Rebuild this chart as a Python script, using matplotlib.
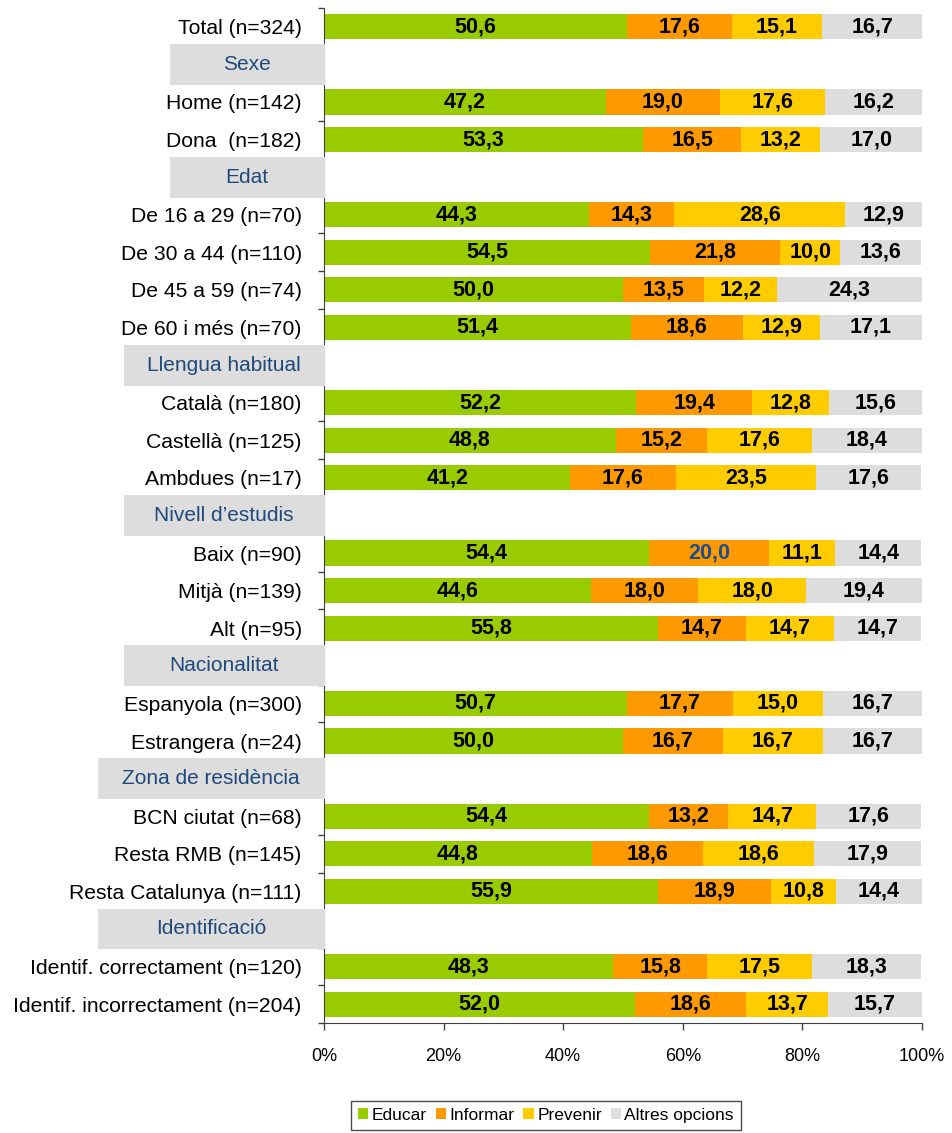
import numpy as np
import matplotlib
matplotlib.use('Agg')
import matplotlib.pyplot as plt
from matplotlib.patches import Rectangle
from matplotlib.transforms import blended_transform_factory

plt.rcParams['font.family'] = ['Liberation Sans', 'DejaVu Sans']

nan = np.nan

# row labels, top to bottom; headers are the group titles in grey boxes
labels = ["Total (n=324)", "Sexe", "Home (n=142)", "Dona  (n=182)", "Edat",
          "De 16 a 29 (n=70)", "De 30 a 44 (n=110)", "De 45 a 59 (n=74)", "De 60 i més (n=70)",
          "Llengua habitual", "Català (n=180)", "Castellà (n=125)", "Ambdues (n=17)",
          "Nivell d’estudis", "Baix (n=90)", "Mitjà (n=139)", "Alt (n=95)",
          "Nacionalitat", "Espanyola (n=300)", "Estrangera (n=24)",
          "Zona de residència", "BCN ciutat (n=68)", "Resta RMB (n=145)", "Resta Catalunya (n=111)",
          "Identificació", "Identif. correctament (n=120)", "Identif. incorrectament (n=204)"]
headers = ["Sexe", "Edat", "Llengua habitual", "Nivell d’estudis", "Nacionalitat",
           "Zona de residència", "Identificació"]

educar = [50.6, nan, 47.2, 53.3, nan, 44.3, 54.5, 50.0, 51.4, nan, 52.2, 48.8, 41.2,
          nan, 54.4, 44.6, 55.8, nan, 50.7, 50.0, nan, 54.4, 44.8, 55.9, nan, 48.3, 52.0]
informar = [17.6, nan, 19.0, 16.5, nan, 14.3, 21.8, 13.5, 18.6, nan, 19.4, 15.2, 17.6,
            nan, 20.0, 18.0, 14.7, nan, 17.7, 16.7, nan, 13.2, 18.6, 18.9, nan, 15.8, 18.6]
prevenir = [15.1, nan, 17.6, 13.2, nan, 28.6, 10.0, 12.2, 12.9, nan, 12.8, 17.6, 23.5,
            nan, 11.1, 18.0, 14.7, nan, 15.0, 16.7, nan, 14.7, 18.6, 10.8, nan, 17.5, 13.7]
altres = [16.7, nan, 16.2, 17.0, nan, 12.9, 13.6, 24.3, 17.1, nan, 15.6, 18.4, 17.6,
          nan, 14.4, 19.4, 14.7, nan, 16.7, 16.7, nan, 17.6, 17.9, 14.4, nan, 18.3, 15.7]

series_names = ["Educar", "Informar", "Prevenir", "Altres opcions"]
colors = ["#99CC00", "#FF9900", "#FFCC00", "#DDDDDD"]

# left edge of the grey header box (axes fraction)
header_left = {"Sexe": -0.2575, "Edat": -0.2575, "Llengua habitual": -0.334,
               "Nivell d’estudis": -0.334, "Nacionalitat": -0.334,
               "Zona de residència": -0.378, "Identificació": -0.378}

fig = plt.figure(figsize=(9.52, 11.33), dpi=100)
ax = fig.add_axes([0.3403, 0.0971, 0.6282, 0.8959])

y = np.arange(len(labels))
left = np.zeros(len(labels))
for name, vals, col in zip(series_names, [educar, informar, prevenir, altres], colors):
    v = np.array(vals, dtype=float)
    w = np.nan_to_num(v)
    ax.barh(y, w, left=left, height=0.67, color=col, label=name, zorder=2)
    for i in range(len(labels)):
        if not np.isnan(v[i]):
            tc = 'black'
            if name == "Informar" and labels[i].startswith("Baix"):
                tc = '#1F4E8C'
            ax.text(left[i] + w[i] / 2, y[i], f"{v[i]:.1f}".replace('.', ','),
                    ha='center', va='center', fontsize=15.5, fontweight='bold',
                    color=tc, zorder=3)
    left += w

ax.set_xlim(0, 100)
ax.set_ylim(len(labels) - 0.5, -0.5)
ax.set_xticks(np.arange(0, 101, 20))
ax.set_xticklabels([f"{t}%" for t in range(0, 101, 20)], fontsize=13)
ax.tick_params(axis='x', direction='out', length=5, width=1, color='#404040', pad=13)

ax.set_yticks(y)
ax.set_yticklabels([l if l not in headers else "" for l in labels], fontsize=15.2)
ax.tick_params(axis='y', length=0, pad=16)
ax.set_yticks(np.arange(-0.5, len(labels), 1), minor=True)
ax.tick_params(axis='y', which='minor', direction='out', length=4, width=1, color='#404040')

for s in ['top', 'right']:
    ax.spines[s].set_visible(False)
for s in ['left', 'bottom']:
    ax.spines[s].set_color('#404040')

trans = blended_transform_factory(ax.transAxes, ax.transData)
for i, l in enumerate(labels):
    if l in headers:
        x0 = header_left[l]
        ax.add_patch(Rectangle((x0, i - 0.545), -x0 + 0.002, 1.09, transform=trans,
                               facecolor='#DDDDDD', edgecolor='none', clip_on=False, zorder=5))
        ax.text(x0 / 2, i, l, transform=trans, ha='center', va='center',
                fontsize=15, color='#1F497D', zorder=6)

leg = fig.legend(loc='upper center', bbox_to_anchor=(546 / 952, 1 - 1092 / 1133), ncol=4,
                 fontsize=12.5, frameon=True, fancybox=False, edgecolor='#202020',
                 handlelength=0.6, handleheight=0.6, handletextpad=0.2,
                 columnspacing=0.5, borderpad=0.4)
leg.get_frame().set_linewidth(1.0)

fig.savefig('out.png', dpi=100)
